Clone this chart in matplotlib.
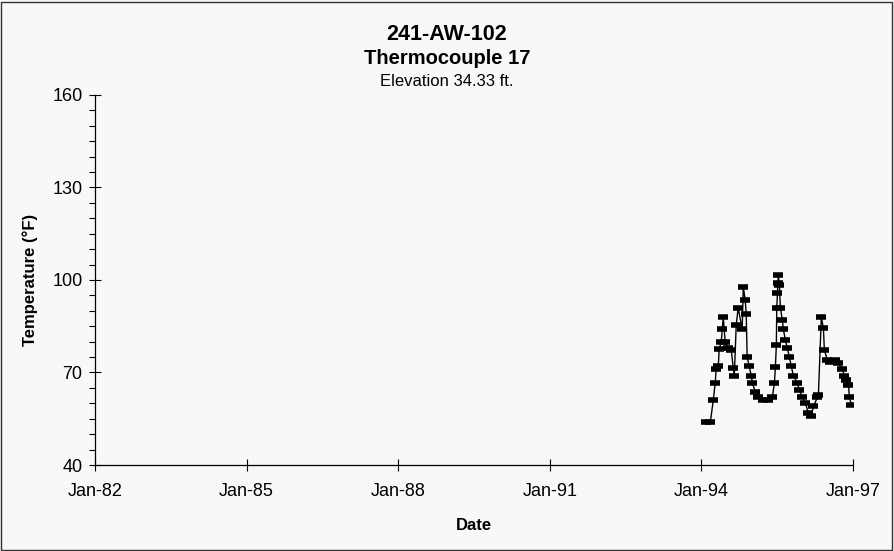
import numpy as np
import pandas as pd
import matplotlib.pyplot as plt
import matplotlib.dates as mdates
from matplotlib.patches import Rectangle

# Thermocouple 17 readings
dates = ['1994-02-03', '1994-03-07', '1994-03-28', '1994-04-11', '1994-04-18',
         '1994-05-03', '1994-05-10', '1994-05-25', '1994-06-01', '1994-06-08',
         '1994-06-22', '1994-07-14', '1994-08-05', '1994-08-19', '1994-08-27',
         '1994-09-10', '1994-09-24', '1994-10-23', '1994-10-31', '1994-11-14',
         '1994-11-21', '1994-11-28', '1994-12-13', '1994-12-27', '1995-01-05',
         '1995-01-26', '1995-02-17', '1995-03-25', '1995-04-30', '1995-05-29',
         '1995-06-13', '1995-06-20', '1995-06-27', '1995-06-30', '1995-07-05',
         '1995-07-08', '1995-07-11', '1995-07-19', '1995-07-26', '1995-08-09',
         '1995-08-17', '1995-08-31', '1995-09-14', '1995-09-29', '1995-10-13',
         '1995-10-28', '1995-11-26', '1995-12-10', '1996-01-01', '1996-01-23',
         '1996-02-13', '1996-03-06', '1996-03-21', '1996-04-19', '1996-04-26',
         '1996-05-17', '1996-06-01', '1996-06-08', '1996-06-30', '1996-07-22',
         '1996-08-27', '1996-09-17', '1996-10-16', '1996-10-31', '1996-11-14',
         '1996-11-29', '1996-12-06', '1996-12-20']
temps = [54, 54, 61, 66.6, 71,
         72, 77.6, 80, 84, 88,
         80, 78, 77.3, 71.5, 69,
         85.4, 91, 84, 97.7, 93.5,
         89, 75, 72, 69, 66.6,
         63.7, 62, 61, 61, 62,
         66.6, 71.8, 78.9, 91, 95.8,
         99, 101.6, 98.4, 91, 87,
         84, 80.5, 78, 75, 72,
         69, 66.6, 64.3, 62, 60,
         57, 56, 59, 62, 62.7,
         88, 84.4, 77.3, 74, 73.4,
         74, 73, 71, 69, 67.6,
         66, 62, 59.5]

x_ticks = ['1982-01-01', '1985-01-01', '1988-01-01', '1991-01-01', '1994-01-01', '1997-01-01']

df = pd.DataFrame({'date': pd.to_datetime(dates), 'temp': temps})

plt.rcParams['font.family'] = ['Liberation Sans', 'DejaVu Sans']
bg = '#f8f8f8'

fig = plt.figure(figsize=(8.94, 5.51), dpi=100, facecolor=bg)
ax = fig.add_axes([95 / 894, 1 - 465 / 551, (853 - 95) / 894, (465 - 95) / 551])
ax.set_facecolor(bg)

ax.plot(df.date, df.temp, '-', color='black', lw=1,
        marker='_', ms=7, mew=4, mec='black')

# Axes styling
ax.set_xlim(pd.Timestamp(x_ticks[0]), pd.Timestamp(x_ticks[-1]))
ax.set_ylim(40, 160)
ax.set_xticks(pd.to_datetime(x_ticks))
ax.xaxis.set_major_formatter(mdates.DateFormatter('%b-%y'))
ax.set_yticks([40, 70, 100, 130, 160])
ax.set_yticks(np.arange(40, 161, 5), minor=True)
for s in ['top', 'right']:
    ax.spines[s].set_visible(False)
ax.spines['left'].set_linewidth(0.9)
ax.spines['bottom'].set_linewidth(0.9)
ax.tick_params(axis='both', which='major', direction='inout', length=8, width=0.8,
               labelsize=13, pad=5)
ax.tick_params(axis='y', which='minor', direction='out', length=4, width=0.8)
ax.tick_params(axis='x', which='major', pad=9)

ax.set_xlabel('Date', fontsize=12, fontweight='bold', labelpad=13)
ax.set_ylabel('Temperature (°F)', fontsize=12, fontweight='bold', labelpad=10)

# Titles
fig.text(0.5, 1 - 34 / 551, '241-AW-102', ha='center', va='center',
         fontsize=15.5, fontweight='bold')
fig.text(0.5, 1 - 58 / 551, 'Thermocouple 17', ha='center', va='center',
         fontsize=14.5, fontweight='bold')
fig.text(0.5, 1 - 82 / 551, 'Elevation 34.33 ft.', ha='center', va='center',
         fontsize=12)

# Frame around the chart
fig.patches.append(Rectangle((0.001, 0.002), 0.997, 0.995, transform=fig.transFigure,
                             fill=False, edgecolor='#333333', lw=1))

fig.savefig('out.png', dpi=100, facecolor=bg)
